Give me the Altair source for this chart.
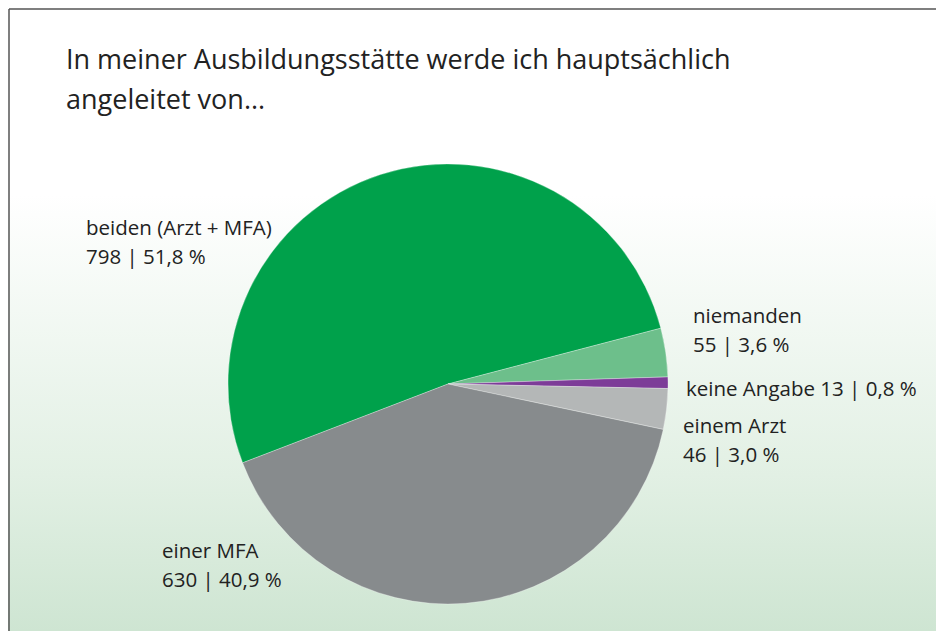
import math
import altair as alt
import pandas as pd

# ---- data ----
categories = ["beiden (Arzt + MFA)", "niemanden", "keine Angabe", "einem Arzt", "einer MFA"]
counts = [798, 55, 13, 46, 630]
percents = ["51,8 %", "3,6 %", "0,8 %", "3,0 %", "40,9 %"]
colors = ["#00a14b", "#6dbf8b", "#7d3c98", "#b4b7b7", "#878b8d"]

title_lines = ["In meiner Ausbildungsstätte werde ich hauptsächlich", "angeleitet von..."]

W, H = 928, 623
CX, CY, R = 440, 376, 220
START = math.radians(249)
FONT = "Open Sans"

df = pd.DataFrame({"cat": categories, "n": counts, "idx": list(range(len(categories)))})

# background with gradient
bg = alt.Chart(pd.DataFrame({"a": [0]})).mark_rect(
    fill=alt.Gradient(
        gradient="linear", x1=0, x2=0, y1=0, y2=1,
        stops=[
            alt.GradientStop(offset=0, color="#ffffff"),
            alt.GradientStop(offset=0.30, color="#ffffff"),
            alt.GradientStop(offset=0.75, color="#e2f0e4"),
            alt.GradientStop(offset=1, color="#cee5d2"),
        ],
    )
).encode(x=alt.value(0), x2=alt.value(W), y=alt.value(0), y2=alt.value(H))

border = alt.Chart(pd.DataFrame({"a": [0]})).mark_rule(color="#555555", strokeWidth=1.5).encode(
    x=alt.value(1), x2=alt.value(W), y=alt.value(1), y2=alt.value(1)
) + alt.Chart(pd.DataFrame({"a": [0]})).mark_rule(color="#555555", strokeWidth=1.5).encode(
    x=alt.value(1), x2=alt.value(1), y=alt.value(1), y2=alt.value(H)
)

pie = alt.Chart(df).mark_arc(radius=R, stroke="#ffffff", strokeWidth=0.3).encode(
    theta=alt.Theta("n:Q", stack=True, scale=alt.Scale(range=[START, START + 2 * math.pi])),
    order=alt.Order("idx:Q", sort="ascending"),
    color=alt.Color("cat:N", scale=alt.Scale(domain=categories, range=colors), legend=None),
    x=alt.value(CX),
    y=alt.value(CY),
)

layers = [bg, border, pie]

# title
title_pos = [(58, 61), (58, 101)]
for line, (tx, ty) in zip(title_lines, title_pos):
    layers.append(
        alt.Chart(pd.DataFrame({"t": [line]})).mark_text(
            align="left", baseline="alphabetic", font=FONT, fontSize=27, color="#222222"
        ).encode(text="t:N", x=alt.value(tx), y=alt.value(ty))
    )

# label placement (chart coords), lines
label_text = [
    [categories[0], f"{counts[0]} | {percents[0]}"],
    [categories[1], f"{counts[1]} | {percents[1]}"],
    [f"{categories[2]} {counts[2]} | {percents[2]}"],
    [categories[3], f"{counts[3]} | {percents[3]}"],
    [categories[4], f"{counts[4]} | {percents[4]}"],
]
label_pos = [(78, 227), (685, 315), (678, 388), (675, 425), (154, 550)]
LINE = 29
for lines, (lx, ly) in zip(label_text, label_pos):
    for k, line in enumerate(lines):
        layers.append(
            alt.Chart(pd.DataFrame({"t": [line]})).mark_text(
                align="left", baseline="alphabetic", font=FONT, fontSize=20.5, color="#222222"
            ).encode(text="t:N", x=alt.value(lx), y=alt.value(ly + k * LINE))
        )

chart = alt.layer(*layers).properties(
    width=W, height=H, padding=0,
    autosize=alt.AutoSizeParams(type="fit", contains="padding"),
).configure_view(stroke=None).configure(background="white")

chart.save("out.html", embed_options={"renderer": "svg", "actions": False})
